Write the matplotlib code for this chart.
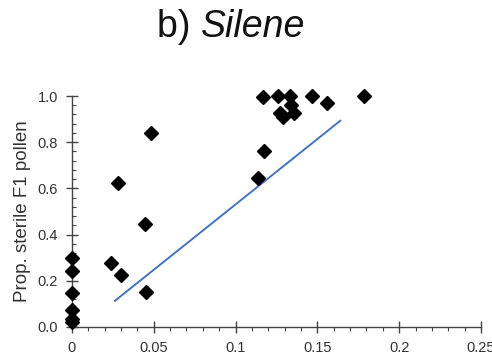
import numpy as np
import matplotlib
matplotlib.use("Agg")
import matplotlib.pyplot as plt
from matplotlib.ticker import MultipleLocator, FixedLocator

plt.rcParams["font.family"] = ["Liberation Sans", "DejaVu Sans"]

# divergence vs. proportion of sterile F1 pollen (Silene)
div_x = [0.0, 0.0, 0.0, 0.0, 0.0, 0.0,
         0.0238, 0.0282, 0.0297, 0.0445, 0.0455, 0.0486,
         0.1136, 0.1167, 0.1173, 0.126, 0.127, 0.129, 0.1335, 0.134,
         0.136, 0.147, 0.1557, 0.1787]
sterile_y = [0.297, 0.244, 0.149, 0.074, 0.033, 0.02,
             0.278, 0.622, 0.225, 0.446, 0.152, 0.838,
             0.646, 0.997, 0.763, 1.0, 0.925, 0.908, 1.0, 0.961,
             0.925, 1.0, 0.968, 1.0]

# fitted regression line (end points)
fit_x = [0.0262, 0.164]
fit_y = [0.113, 0.893]

x_ticks = [0, 0.05, 0.1, 0.15, 0.2, 0.25]
x_labels = ["0", "0.05", "0.1", "0.15", "0.2", "0.25"]
y_ticks = [0.0, 0.2, 0.4, 0.6, 0.8, 1.0]
y_labels = ["0.0", "0.2", "0.4", "0.6", "0.8", "1.0"]

fig = plt.figure(figsize=(4.92, 3.56), dpi=100)
ax = fig.add_axes([0.1463, 0.0815, 0.8313, 0.6488])

ax.plot(fit_x, fit_y, color="#4472C4", lw=1.4, zorder=2)
ax.plot(div_x, sterile_y, ls="none", marker="D", ms=7.5, color="black",
        clip_on=False, zorder=3)

ax.set_xlim(0, 0.25)
ax.set_ylim(0, 1.0)
ax.spines[["top", "right"]].set_visible(False)
for s in ("left", "bottom"):
    ax.spines[s].set_color("#444")
    ax.spines[s].set_linewidth(1.0)

ax.xaxis.set_major_locator(FixedLocator(x_ticks))
ax.set_xticklabels(x_labels)
ax.yaxis.set_major_locator(FixedLocator(y_ticks))
ax.set_yticklabels(y_labels)
ax.xaxis.set_minor_locator(MultipleLocator(0.01))
ax.yaxis.set_minor_locator(MultipleLocator(0.04))

ax.tick_params(which="major", direction="inout", length=8, width=1.0,
               color="#444", labelsize=10.5, labelcolor="#333")
ax.tick_params(axis="x", which="major", pad=6)
ax.tick_params(axis="y", which="major", pad=6)
ax.tick_params(axis="x", which="minor", direction="out", length=3, width=0.8, color="#444")
ax.tick_params(axis="y", which="minor", direction="in", length=3, width=0.8, color="#444")

ax.set_ylabel("Prop. sterile F1 pollen", fontsize=13.5, color="#333", labelpad=5)

fig.text(0.4085, 0.925, "b) ", fontsize=27, ha="right", va="center", color="#111")
fig.text(0.4085, 0.925, "Silene", fontsize=27, ha="left", va="center",
         style="italic", color="#111")

fig.savefig("out.png", dpi=100)
